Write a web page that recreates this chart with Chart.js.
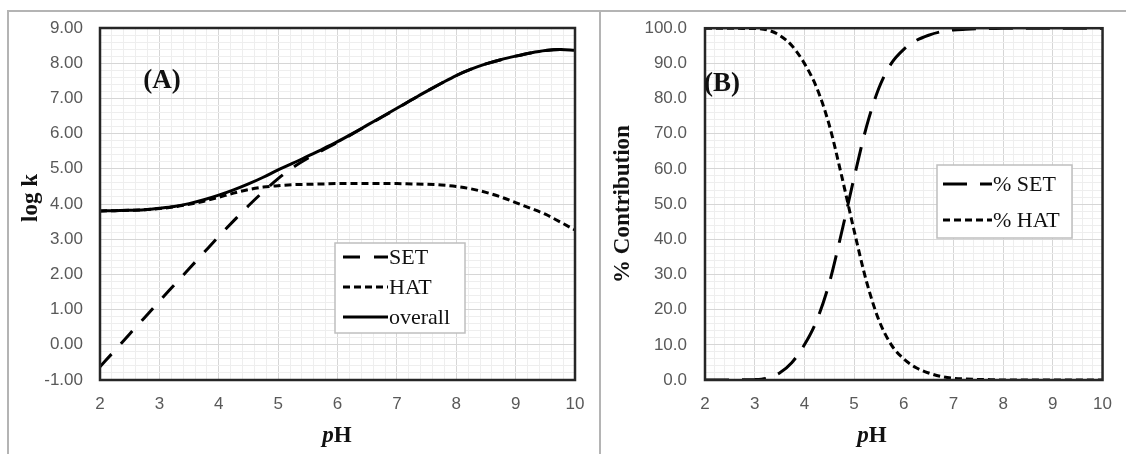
<!DOCTYPE html>
<html>
<head>
<meta charset="utf-8">
<script src="https://cdn.jsdelivr.net/npm/chart.js@4.4.0/dist/chart.umd.min.js"></script>
<style>
    body { margin: 0; background: #fff; }
    #wrap { position: relative; width: 1126px; height: 454px; overflow: hidden; }
    canvas { position: absolute; top: 0; }
    #chartA { left: 0; }
    #chartB { left: 600px; }
    .frame { position: absolute; background: #b4b4b4; }
</style>
</head>
<body>
<div id="wrap">
    <div class="frame" style="left:7px;top:10px;width:1119px;height:2px"></div>
    <div class="frame" style="left:7px;top:10px;width:2px;height:444px"></div>
    <div class="frame" style="left:599px;top:10px;width:2px;height:444px"></div>
    <canvas id="chartA" width="600" height="454"></canvas>
    <canvas id="chartB" width="526" height="454"></canvas>
</div>
<script>
// pH grid (both panels)
const pH = [2, 2.25, 2.5, 2.75, 3, 3.25, 3.5, 3.75, 4, 4.25, 4.5, 4.75, 5, 5.25, 5.5, 5.75,
            6, 6.25, 6.5, 6.75, 7, 7.25, 7.5, 7.75, 8, 8.25, 8.5, 8.75, 9, 9.25, 9.5, 9.75, 10];

// Panel A: log k
const logkSET = [-0.62, -0.16, 0.31, 0.77, 1.24, 1.70, 2.16, 2.62, 3.08, 3.52, 3.95, 4.35, 4.72, 5.04, 5.30, 5.53,
                 5.75, 5.99, 6.23, 6.47, 6.71, 6.96, 7.20, 7.43, 7.65, 7.83, 7.98, 8.10, 8.20, 8.29, 8.36, 8.39, 8.37];
const logkHAT = [3.80, 3.81, 3.82, 3.84, 3.87, 3.92, 3.99, 4.08, 4.19, 4.31, 4.41, 4.48, 4.52, 4.55, 4.56, 4.57,
                 4.58, 4.58, 4.58, 4.58, 4.58, 4.57, 4.56, 4.54, 4.50, 4.43, 4.33, 4.20, 4.04, 3.88, 3.71, 3.49, 3.26];
const logkOverall = [3.80, 3.81, 3.82, 3.84, 3.88, 3.93, 4.01, 4.12, 4.25, 4.40, 4.57, 4.76, 4.97, 5.16, 5.36, 5.56,
                     5.77, 6.00, 6.24, 6.48, 6.72, 6.96, 7.20, 7.43, 7.65, 7.83, 7.98, 8.10, 8.20, 8.29, 8.36, 8.39, 8.37];

// Panel B: % contribution
const pctSET = [0, 0, 0, 0.05, 0.1, 0.5, 2.0, 5.0, 10.0, 17.0, 27.5, 42.0, 57.5, 72.0, 83.0, 90.0,
                94.0, 96.5, 98.0, 99.0, 99.5, 99.7, 99.85, 99.9, 100, 100, 100, 100, 100, 100, 100, 100, 100];
const pctHAT = [100, 100, 100, 99.95, 99.9, 99.5, 98.0, 95.0, 90.0, 83.0, 72.5, 58.0, 42.5, 28.0, 17.0, 10.0,
                6.0, 3.5, 2.0, 1.0, 0.5, 0.3, 0.15, 0.1, 0, 0, 0, 0, 0, 0, 0, 0, 0];

const SERIF = '"Liberation Serif", "Times New Roman", serif';
const SANS = '"Liberation Sans", Arial, sans-serif';

const pts = ys => pH.map((x, i) => ({ x: x, y: ys[i] }));
const isMajor = (v, step) => Math.abs(v / step - Math.round(v / step)) < 1e-6;

function line(label, ys, dash) {
    return {
        label: label,
        data: pts(ys),
        borderColor: '#000',
        borderWidth: 3,
        borderDash: dash,
        pointRadius: 0,
        fill: false,
        cubicInterpolationMode: 'monotone'
    };
}

// plot area border
const framePlugin = {
    id: 'frame',
    afterDatasetsDraw(chart) {
        const { ctx, chartArea: a } = chart;
        ctx.save();
        ctx.strokeStyle = '#262626';
        ctx.lineWidth = 2.5;
        ctx.strokeRect(a.left, a.top, a.right - a.left, a.bottom - a.top);
        ctx.restore();
    }
};

// Excel-like boxed legend placed inside the plot
const boxLegend = {
    id: 'boxLegend',
    afterDraw(chart, args, o) {
        const ctx = chart.ctx;
        ctx.save();
        ctx.fillStyle = '#fff';
        ctx.fillRect(o.left, o.top, o.width, o.height);
        ctx.strokeStyle = '#bfbfbf';
        ctx.lineWidth = 1.5;
        ctx.strokeRect(o.left, o.top, o.width, o.height);
        ctx.font = o.font;
        ctx.textBaseline = 'middle';
        ctx.fillStyle = '#111';
        chart.data.datasets.forEach((ds, i) => {
            const y = o.rows[i];
            ctx.beginPath();
            ctx.setLineDash(ds.borderDash || []);
            ctx.lineWidth = ds.borderWidth;
            ctx.strokeStyle = ds.borderColor;
            ctx.moveTo(o.x0, y);
            ctx.lineTo(o.x1, y);
            ctx.stroke();
            ctx.setLineDash([]);
            ctx.fillText(ds.label, o.textX, y + 1);
        });
        ctx.restore();
    }
};

// axis titles and panel tags
const textPlugin = {
    id: 'texts',
    afterDraw(chart, args, o) {
        const ctx = chart.ctx;
        o.items.forEach(it => {
            ctx.save();
            ctx.fillStyle = '#111';
            ctx.textBaseline = 'middle';
            ctx.translate(it.x, it.y);
            if (it.rotate) ctx.rotate(-Math.PI / 2);
            let total = 0;
            it.parts.forEach(p => { ctx.font = p.font; total += ctx.measureText(p.t).width; });
            let x = it.align === 'left' ? 0 : -total / 2;
            it.parts.forEach(p => {
                ctx.font = p.font;
                ctx.textAlign = 'left';
                ctx.fillText(p.t, x, 0);
                x += ctx.measureText(p.t).width;
            });
            ctx.restore();
        });
    }
};

function makeOptions(cfg) {
    return {
        responsive: false,
        animation: false,
        layout: { padding: { top: 28, right: cfg.padRight, left: 0, bottom: 0 } },
        plugins: {
            legend: { display: false },
            tooltip: { enabled: false },
            boxLegend: cfg.legend,
            texts: { items: cfg.texts }
        },
        scales: {
            x: {
                type: 'linear',
                min: 2, max: 10,
                afterFit: s => { s.height = 74; },
                border: { display: false },
                grid: {
                    drawTicks: false,
                    color: c => isMajor(c.tick.value, 1) ? '#d6d6d6' : '#eeeeee'
                },
                ticks: {
                    stepSize: 0.2,
                    maxTicksLimit: 200,
                    autoSkip: false,
                    maxRotation: 0, minRotation: 0,
                    padding: 14,
                    color: '#595959',
                    font: { family: SANS, size: 17 },
                    callback: v => isMajor(v, 1) ? String(Math.round(v)) : ''
                }
            },
            y: {
                min: cfg.yMin, max: cfg.yMax,
                afterFit: s => { s.width = cfg.yWidth; },
                border: { display: false },
                grid: {
                    drawTicks: false,
                    color: c => isMajor(c.tick.value, cfg.yMajor) ? '#d6d6d6' : '#eeeeee'
                },
                ticks: {
                    stepSize: cfg.yStep,
                    maxTicksLimit: 200,
                    autoSkip: false,
                    padding: cfg.yPad,
                    color: '#595959',
                    font: { family: SANS, size: 17 },
                    callback: v => isMajor(v, cfg.yMajor) ? v.toFixed(cfg.yDigits) : ''
                }
            }
        }
    };
}

const titleFont = 'bold 23px ' + SERIF;
const italicFont = 'italic bold 23px ' + SERIF;
const tagFont = 'bold 27px ' + SERIF;

new Chart(document.getElementById('chartA'), {
    type: 'line',
    data: {
        datasets: [
            line('SET', logkSET, [17, 14]),
            line('HAT', logkHAT, [7, 4]),
            line('overall', logkOverall, [])
        ]
    },
    options: makeOptions({
        yMin: -1, yMax: 9, yStep: 0.2, yMajor: 1, yDigits: 2, yWidth: 100, yPad: 17, padRight: 25,
        legend: { left: 335, top: 243, width: 130, height: 90, rows: [257, 287, 317],
                  x0: 343, x1: 388, textX: 389, font: '22px ' + SERIF },
        texts: [
            { x: 31, y: 198, rotate: true, parts: [{ t: 'log k', font: titleFont }] },
            { x: 337, y: 436, parts: [{ t: 'p', font: italicFont }, { t: 'H', font: titleFont }] },
            { x: 162, y: 81, parts: [{ t: '(A)', font: tagFont }] }
        ]
    }),
    plugins: [framePlugin, boxLegend, textPlugin]
});

new Chart(document.getElementById('chartB'), {
    type: 'line',
    data: {
        datasets: [
            line('% SET', pctSET, [24, 13]),
            line('% HAT', pctHAT, [7, 4])
        ]
    },
    options: makeOptions({
        yMin: 0, yMax: 100, yStep: 2, yMajor: 10, yDigits: 1, yWidth: 105, yPad: 18, padRight: 10,
        legend: { left: 337, top: 165, width: 135, height: 73, rows: [184, 220],
                  x0: 343, x1: 392, textX: 393, font: '22px ' + SERIF },
        texts: [
            { x: 23, y: 204, rotate: true, parts: [{ t: '% Contribution', font: titleFont }] },
            { x: 272, y: 436, parts: [{ t: 'p', font: italicFont }, { t: 'H', font: titleFont }] },
            { x: 104, y: 84, align: 'left', parts: [{ t: '(B)', font: tagFont }] }
        ]
    }),
    plugins: [framePlugin, boxLegend, textPlugin]
});
</script>
</body>
</html>
